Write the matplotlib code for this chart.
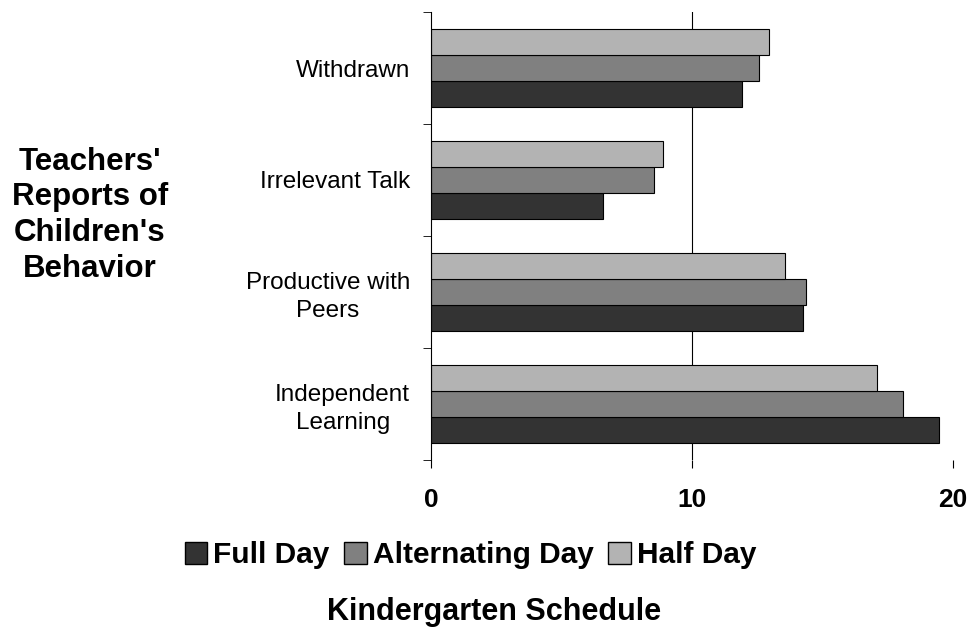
import numpy as np
import matplotlib.pyplot as plt
from matplotlib.patches import Patch

plt.rcParams['font.family'] = ['Liberation Sans', 'DejaVu Sans']

categories = ['Independent\nLearning', 'Productive with\nPeers', 'Irrelevant Talk', 'Withdrawn']
full_day = [19.45, 14.25, 6.6, 11.9]
alternating_day = [18.1, 14.35, 8.55, 12.55]
half_day = [17.1, 13.55, 8.9, 12.95]
series = ['Full Day', 'Alternating Day', 'Half Day']
colors = ['#333333', '#808080', '#b3b3b3']

fig = plt.figure(figsize=(9.76, 6.35), dpi=100)
ax = fig.add_axes([0.4416, 0.2756, 0.5348, 0.7055])

y = np.arange(len(categories))
h = 0.23
ax.axvline(10, color='black', linewidth=0.8, zorder=1)
for i, (vals, col) in enumerate(zip([full_day, alternating_day, half_day], colors)):
    ax.barh(y + (i - 1) * h, vals, height=h, color=col, edgecolor='black', linewidth=0.8, zorder=2)

ax.set_xlim(0, 20)
ax.set_ylim(-0.5, 3.5)
ax.set_xticks([0, 10, 20])
ax.set_xticklabels(['0', '10', '20'], fontsize=19, fontweight='bold')
ax.set_yticks(y)
ax.set_yticklabels(categories, fontsize=17.5, multialignment='center', linespacing=1.3)
ax.set_yticks(np.arange(-0.5, 4, 1), minor=True)
ax.tick_params(axis='y', which='major', length=0, pad=15)
ax.tick_params(axis='y', which='minor', length=6, direction='out')
ax.tick_params(axis='x', length=6, pad=14)
for s in ['top', 'right', 'bottom']:
    ax.spines[s].set_visible(False)
ax.spines['left'].set_linewidth(0.8)

fig.text(0.092, 0.661, "Teachers'\nReports of\nChildren's\nBehavior", ha='center', va='center',
         fontsize=22.5, fontweight='bold', linespacing=1.25)

handles = [Patch(facecolor=c, edgecolor='black', label=s) for s, c in zip(series, colors)]
fig.legend(handles=handles, loc='center', bbox_to_anchor=(0.482, 0.126), ncol=3, frameon=False,
           prop={'size': 21.5, 'weight': 'bold'}, handlelength=0.75, handleheight=0.75,
           handletextpad=0.2, columnspacing=0.5)
fig.text(0.506, 0.036, 'Kindergarten Schedule', ha='center', va='center', fontsize=22, fontweight='bold')

fig.savefig('out.png', dpi=100)
